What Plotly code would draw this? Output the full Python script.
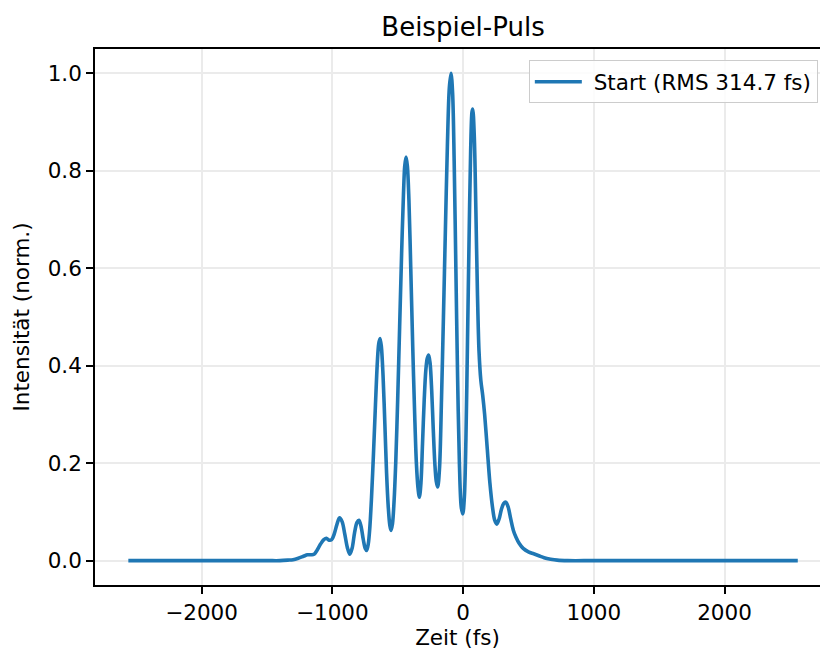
import plotly.graph_objects as go

# Time axis (fs) and normalized intensity
time_fs = [-2560, -2000, -1500, -1400, -1340, -1300, -1260, -1220, -1190, -1160, -1140,
           -1120, -1090, -1065, -1045, -1025, -1005, -985, -965, -945, -925, -905,
           -885, -866, -848, -830, -812, -796, -780, -763, -748, -737, -725, -713,
           -700, -685, -670, -655, -645, -635, -625, -612, -598, -585, -572, -560,
           -551, -540, -528, -515, -500, -485, -470, -456, -446, -436, -426, -414,
           -400, -385, -370, -357, -345, -334, -322, -310, -297, -285, -274, -263,
           -252, -240, -228, -216, -205, -194, -180, -165, -150, -135, -120, -105,
           -92, -80, -68, -55, -42, -28, -14, -2, 10, 22, 34, 46, 58, 68, 74, 86,
           98, 110, 122, 136, 150, 165, 185, 205, 225, 242, 258, 275, 293, 310, 327,
           345, 365, 385, 405, 430, 460, 500, 540, 580, 620, 670, 720, 800, 1000,
           1500, 2000, 2560]
intensity = [0.0, 0.0, 0.0, 0.0, 0.001, 0.002, 0.005, 0.009, 0.012, 0.012, 0.013,
             0.020, 0.034, 0.043, 0.046, 0.042, 0.043, 0.055, 0.074, 0.088, 0.080,
             0.055, 0.027, 0.013, 0.026, 0.057, 0.078, 0.083, 0.070, 0.043, 0.025,
             0.021, 0.034, 0.068, 0.13, 0.22, 0.32, 0.41, 0.445, 0.456, 0.44, 0.38,
             0.28, 0.18, 0.11, 0.072, 0.062, 0.075, 0.12, 0.20, 0.33, 0.48, 0.63,
             0.75, 0.81, 0.828, 0.81, 0.74, 0.60, 0.44, 0.30, 0.20, 0.15, 0.13, 0.16,
             0.24, 0.33, 0.39, 0.415, 0.422, 0.405, 0.35, 0.27, 0.20, 0.163, 0.151,
             0.19, 0.33, 0.50, 0.68, 0.85, 0.97, 1.0, 0.96, 0.82, 0.60, 0.38, 0.20,
             0.11, 0.096, 0.13, 0.25, 0.45, 0.66, 0.84, 0.92, 0.927, 0.87, 0.72,
             0.55, 0.43, 0.37, 0.34, 0.30, 0.23, 0.16, 0.11, 0.083, 0.075, 0.085,
             0.105, 0.117, 0.12, 0.11, 0.085, 0.062, 0.048, 0.035, 0.025, 0.018,
             0.014, 0.010, 0.006, 0.003, 0.001, 0.0, 0.0, 0.0, 0.0, 0.0]

x_ticks = [-2000, -1000, 0, 1000, 2000]
x_tick_labels = ["\u22122000", "\u22121000", "0", "1000", "2000"]
y_ticks = [0.0, 0.2, 0.4, 0.6, 0.8, 1.0]
y_tick_labels = ["0.0", "0.2", "0.4", "0.6", "0.8", "1.0"]

FONT = "DejaVu Sans"
FS = 21.5

fig = go.Figure()
fig.add_trace(go.Scatter(
    x=time_fs, y=intensity, mode="lines",
    name="\u00a0Start (RMS 314.7 fs)",
    line=dict(color="#1f77b4", width=3.6, shape="spline", smoothing=0.9),
))

axis_common = dict(
    showline=True, linecolor="black", linewidth=1.6,
    ticks="outside", ticklen=7, tickwidth=1.6, tickcolor="black",
    showgrid=True, gridcolor="#ebebeb", gridwidth=1.5,
    zeroline=False,
    tickfont=dict(family=FONT, size=FS, color="black"),
)

fig.update_layout(
    width=820, height=651,
    margin=dict(l=95, r=0, t=49, b=66),
    paper_bgcolor="white", plot_bgcolor="white",
    font=dict(family=FONT, color="black"),
    title=dict(text="Beispiel-Puls", x=463 / 820, xref="container", xanchor="center",
               y=1 - 27 / 651, yref="container", yanchor="middle",
               font=dict(family=FONT, size=26, color="black")),
    xaxis=dict(range=[-2815, 2730], tickvals=x_ticks, ticktext=x_tick_labels,
               mirror=True,
               title=dict(text="Zeit (fs)", font=dict(family=FONT, size=FS), standoff=2),
               **axis_common),
    yaxis=dict(range=[-0.05, 1.05], tickvals=y_ticks, ticktext=y_tick_labels,
               mirror=False,
               title=dict(text="Intensität (norm.)", font=dict(family=FONT, size=FS), standoff=12),
               **axis_common),
    showlegend=True,
    legend=dict(x=0.997, y=0.979, xanchor="right", yanchor="top",
                bgcolor="rgba(255,255,255,0.85)", bordercolor="#cccccc", borderwidth=1,
                font=dict(family=FONT, size=FS, color="black"), itemwidth=47),
)

fig.write_html("out.html")
